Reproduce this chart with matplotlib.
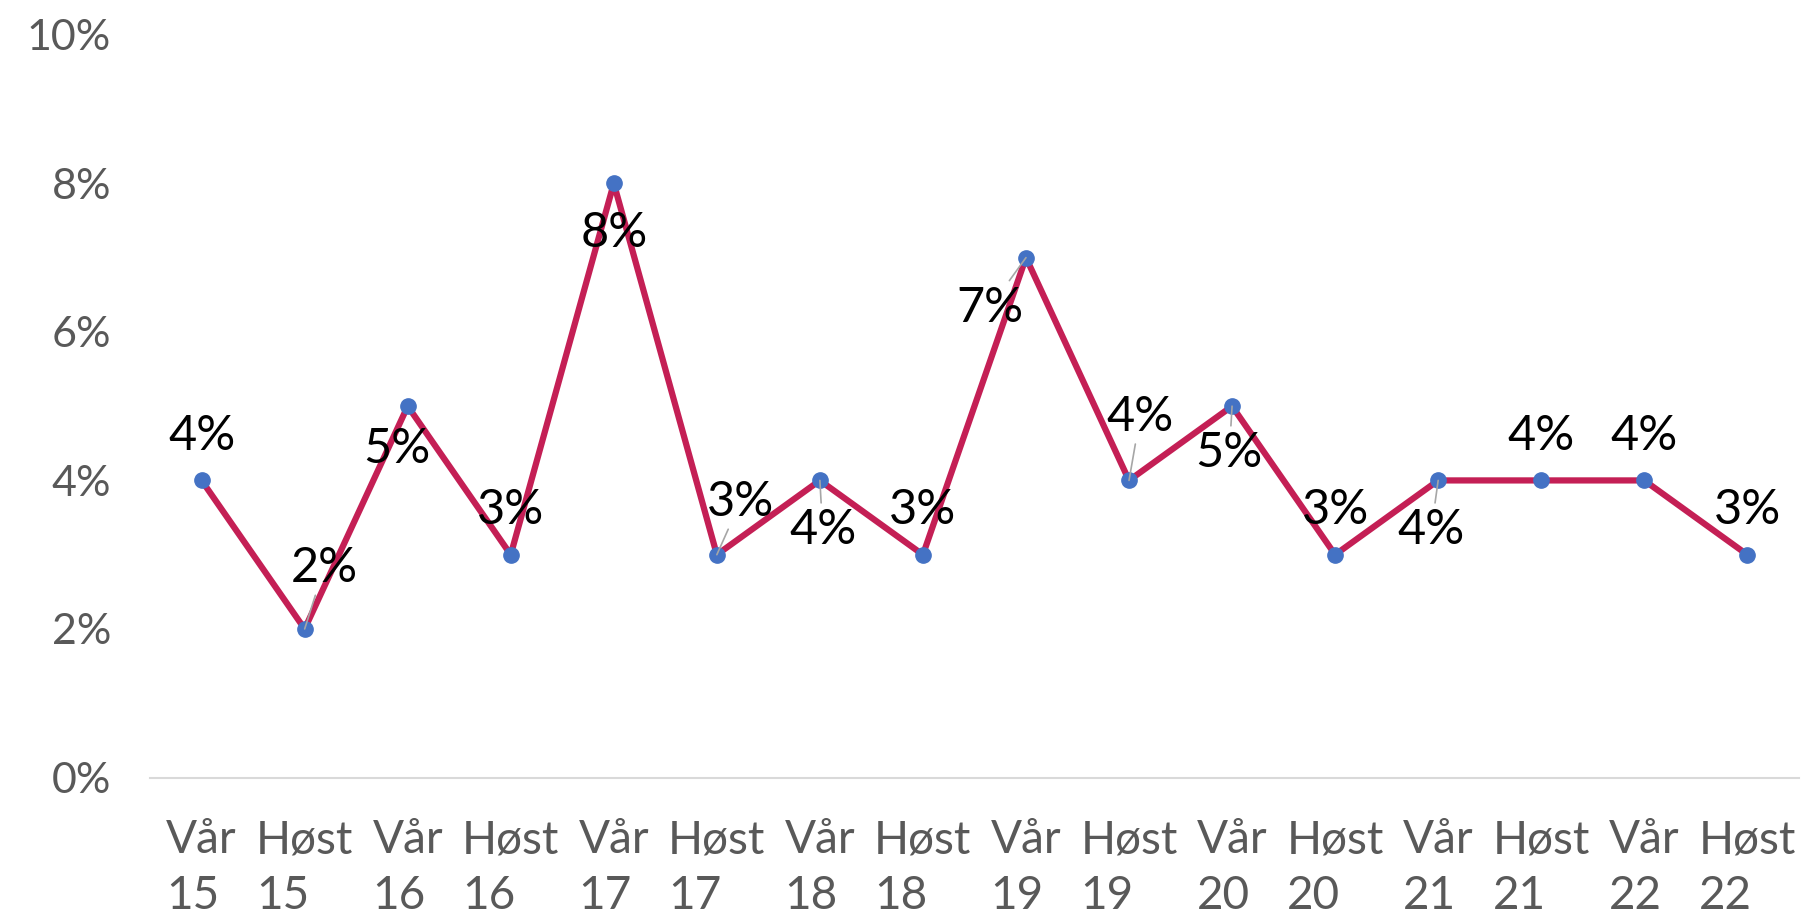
import matplotlib
matplotlib.use("Agg")
import matplotlib.pyplot as plt
from matplotlib.ticker import FuncFormatter

# semester labels and share per semester (percent)
seasons = ["Vår", "Høst"] * 8
years = ["15", "15", "16", "16", "17", "17", "18", "18",
         "19", "19", "20", "20", "21", "21", "22", "22"]
values = [4, 2, 5, 3, 8, 3, 4, 3, 7, 4, 5, 3, 4, 4, 4, 3]

# label offsets (points) and whether a leader line is drawn
label_offsets = [(0, 32), (14, 44), (-8, -31), (0, 32), (0, -36), (17, 38),
                 (2, -36), (0, 32), (-26, -36), (8, 46), (-2, -34), (0, 32),
                 (-5, -36), (0, 32), (0, 32), (0, 32)]
leaders = [False, True, False, False, False, True, True, False,
           True, True, True, False, True, False, False, False]

plt.rcParams["font.family"] = ["Lato", "DejaVu Sans"]

fig = plt.figure(figsize=(18.17, 9.21), dpi=100)
ax = fig.add_axes([0.0826, 0.1558, 0.9074, 0.8064])

x = list(range(len(values)))
ax.plot(x, values, color="#C41F55", lw=4.5, zorder=2)
ax.plot(x, values, "o", color="#4472C4", ms=11, zorder=3)

for xi, v, (dx, dy), lead in zip(x, values, label_offsets, leaders):
    props = None
    if lead:
        props = dict(arrowstyle="-", color="#A6A6A6", lw=1.2,
                     shrinkA=2, shrinkB=0)
    ax.annotate(f"{v}%", (xi, v), xytext=(dx, dy), textcoords="offset points",
                ha="center", va="center", fontsize=35, color="black",
                arrowprops=props, zorder=4)

ax.set_xlim(-0.5, len(values) - 0.5)
ax.set_ylim(0, 10)
ax.set_yticks([0, 2, 4, 6, 8, 10])
ax.yaxis.set_major_formatter(FuncFormatter(lambda v, p: f"{v:.0f}%"))
ax.set_xticks(x)
ax.set_xticklabels([f"{s}\n{y}" for s, y in zip(seasons, years)],
                   linespacing=1.4, multialignment="left", fontsize=33)

ax.tick_params(axis="both", length=0, labelcolor="#595959")
ax.tick_params(axis="y", labelsize=31, pad=28)
ax.tick_params(axis="x", pad=30)

for side in ["top", "right", "left"]:
    ax.spines[side].set_visible(False)
ax.spines["bottom"].set_color("#D9D9D9")
ax.spines["bottom"].set_linewidth(1.5)

fig.savefig("out.png", dpi=100)
